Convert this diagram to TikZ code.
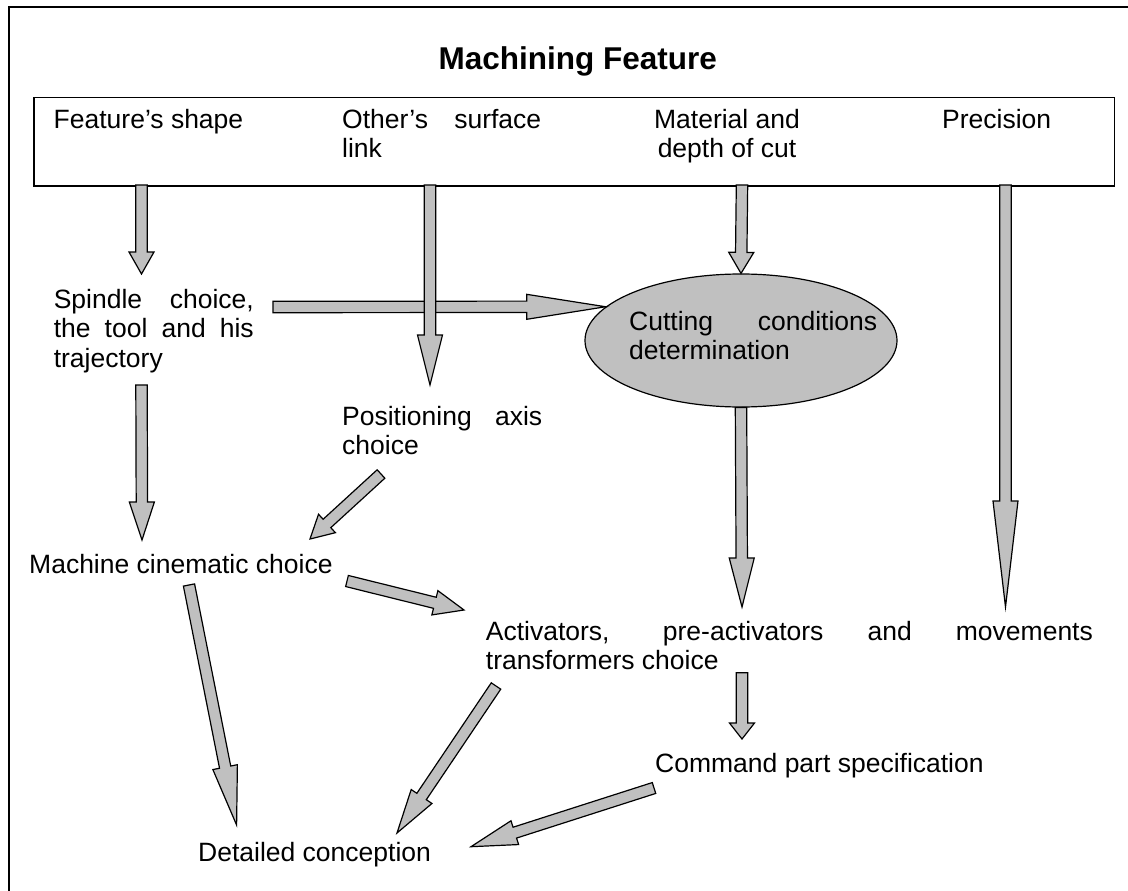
\documentclass[tikz,border=0pt]{standalone}
\usepackage{fontspec}
\setmainfont{Liberation Sans}
\usetikzlibrary{calc,shapes.geometric}
\definecolor{fillgray}{RGB}{192,192,192}
\newcommand{\fatarr}[3]{%
  \coordinate (hb) at ($(#2)!#3!(#1)$);
  \filldraw[fatarrow] ($(#1)!5.7pt!90:(#2)$) -- ($(hb)!5.7pt!90:(#2)$) -- ($(hb)!12.5pt!90:(#2)$) -- (#2) -- ($(hb)!12.5pt!-90:(#2)$) -- ($(hb)!5.7pt!-90:(#2)$) -- ($(#1)!5.7pt!-90:(#2)$) -- cycle;}
\begin{document}
\begin{tikzpicture}[x=1pt,y=-1pt,
  fatarrow/.style={fill=fillgray, draw=black, line width=1.2pt, line join=miter},
  txt/.style={inner sep=0pt, font=\fontsize{26.5}{29.5}\selectfont}]
\useasboundingbox (0,0) rectangle (1128,891);
\draw[line width=1.3pt] (9,891) -- (9,7) -- (1128,7);

\node[txt, font=\bfseries\fontsize{31.5}{36}\selectfont, anchor=base] (title) at (577.7,70) {Machining Feature};
\node[draw, line width=1.5pt, anchor=north west, minimum width=1080.7pt, minimum height=88pt, inner sep=0pt] (mf) at (33,97) {};

\node[txt, anchor=base west] (fs) at (53.5,128.3) {Feature’s shape};
\node[txt, anchor=base west] (osl) at (342,128.3) {\parbox[t]{199pt}{\makebox[199pt][s]{Other’s surface}\\link}};
\node[txt, anchor=base] (mdc) at (727,128.3) {\parbox[t]{170pt}{\centering Material and\\depth of cut}};
\node[txt, anchor=base west] (prec) at (942,128.3) {Precision};

\node[txt, anchor=base west] (spin) at (53.6,308) {\parbox[t]{200pt}{\makebox[200pt][s]{Spindle choice,}\\\makebox[200pt][s]{the tool and his}\\trajectory}};
\node[fill=fillgray, draw, line width=1.2pt, ellipse, minimum width=312pt, minimum height=133pt, inner sep=0pt] (ccd) at (741,340.5) {};
\node[txt, anchor=base west] (ccdt) at (629,330) {\parbox[t]{248pt}{\makebox[248pt][s]{Cutting conditions}\\determination}};
\node[txt, anchor=base west] (pos) at (342,425) {\parbox[t]{200pt}{\makebox[200pt][s]{Positioning axis}\\choice}};
\node[txt, anchor=base west] (mcc) at (29,573.3) {Machine cinematic choice};
\node[txt, anchor=base west] (act) at (485.7,640) {\parbox[t]{607pt}{\makebox[607pt][s]{Activators, pre-activators and movements}\\transformers choice}};
\node[txt, anchor=base west] (cps) at (655,772.7) {Command part specification};
\node[txt, anchor=base west] (dc) at (198,861.7) {Detailed conception};

% arrow end points
\coordinate (fsA) at (141.5,185);   \coordinate (spinA) at (141.5,274);
\coordinate (oslA) at (430,185);    \coordinate (posA) at (430,385);
\coordinate (mdcA) at (742,185);
\coordinate (precA) at (1005.5,185); \coordinate (precB) at (1005.5,607);
\coordinate (spinB) at (273,307);
\coordinate (spinC) at (141.5,385);  \coordinate (mccA) at (142,540);
\coordinate (posB) at (381,474);     \coordinate (mccB) at (310,539);
\coordinate (mccC) at (347,581);     \coordinate (actA) at (464,610);
\coordinate (mccD) at (189,585);     \coordinate (dcA) at (236.6,825);
\coordinate (actB) at (496,686);     \coordinate (dcB) at (397,833);
\coordinate (cpsA) at (654,788);     \coordinate (dcC) at (471,846.7);
\coordinate (actC) at (742,607);
\coordinate (actD) at (742,672.7);   \coordinate (cpsB) at (742,739);

\fatarr{fsA}{spinA}{22pt}
\fatarr{mdcA}{ccd.north}{21pt}
\fatarr{precA}{precB}{106pt}
\fatarr{spinB}{ccd.166}{79pt}
\fatarr{oslA}{posA}{50pt}
\fatarr{spinC}{mccA}{38pt}
\fatarr{posB}{mccB}{23pt}
\fatarr{mccC}{actA}{30pt}
\fatarr{mccD}{dcA}{59pt}
\fatarr{actB}{dcB}{44pt}
\fatarr{cpsA}{dcC}{46pt}
\fatarr{ccd.south}{actC}{49pt}
\fatarr{actD}{cpsB}{16pt}
\end{tikzpicture}
\end{document}
